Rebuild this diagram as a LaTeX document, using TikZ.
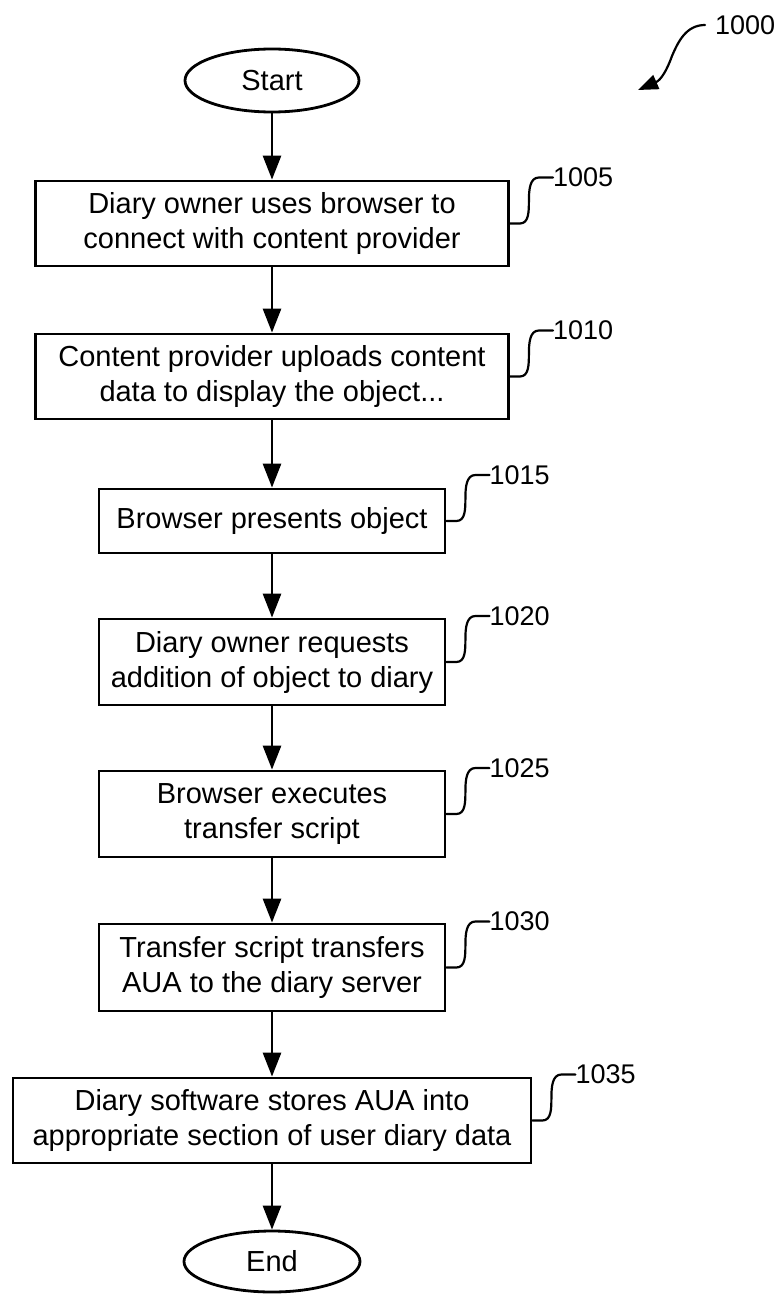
\documentclass[tikz,border=0pt]{standalone}
\usepackage{fontspec}
\setmainfont{Liberation Sans}
\usetikzlibrary{arrows.meta,shapes.geometric,calc}
\begin{document}
\begin{tikzpicture}[x=1pt,y=-1pt,
  stepbox/.style={draw,line width=2.8pt,rectangle,inner sep=0pt,align=center,
    font=\fontsize{29}{35}\selectfont},
  term/.style={draw,line width=2.8pt,ellipse,inner sep=0pt,
    font=\fontsize{29}{35}\selectfont},
  flow/.style={line width=2.8pt,-{Triangle[length=24pt,width=18pt]}},
  lbl/.style={anchor=west,inner sep=0pt,font=\fontsize{27}{30}\selectfont},
  sq/.style={line width=2.2pt,line cap=round,line join=round}]
\useasboundingbox (0,0) rectangle (783,1295);

\node[term,minimum width=174pt,minimum height=63pt] (start) at (272,80.5) {Start};
\node[stepbox,minimum width=473pt,minimum height=85pt] (b1005) at (272,223.5)
  {Diary owner uses browser to\\connect with content provider};
\node[stepbox,minimum width=473pt,minimum height=85pt] (b1010) at (272,376.5)
  {Content provider uploads content\\data to display the object...};
\node[stepbox,minimum width=346pt,minimum height=64pt] (b1015) at (272,521)
  {Browser presents object};
\node[stepbox,minimum width=346pt,minimum height=86pt] (b1020) at (272,662)
  {Diary owner requests\\addition of object to diary};
\node[stepbox,minimum width=346pt,minimum height=86pt] (b1025) at (272,814)
  {Browser executes\\transfer script};
\node[stepbox,minimum width=346pt,minimum height=87pt] (b1030) at (272,967.5)
  {Transfer script transfers\\AUA to the diary server};
\node[stepbox,minimum width=518pt,minimum height=85pt] (b1035) at (272,1120.5)
  {Diary software stores AUA into\\appropriate section of user diary data};
\node[term,minimum width=176pt,minimum height=61pt] (end) at (272,1261.5) {End};

\draw[flow] (start) -- (b1005);
\draw[flow] (b1005) -- (b1010);
\draw[flow] (b1010) -- (b1015);
\draw[flow] (b1015) -- (b1020);
\draw[flow] (b1020) -- (b1025);
\draw[flow] (b1025) -- (b1030);
\draw[flow] (b1030) -- (b1035);
\draw[flow] (b1035) -- (end);

\foreach \b in {1005,1010,1015,1020,1025,1030,1035}{
  \node[lbl] (l\b) at ($(b\b.east)+(43,-46)$) {\b};
  \draw[sq] (b\b.east) -- ++(10,0) .. controls +(9,0) and +(0,11) .. ++(9,-23)
    .. controls +(0,-11) and +(-9,0) .. ++(10,-23) -- (l\b.west);
}

\node[lbl] (l1000) at (715,25) {1000};
\coordinate (t1000) at (638,90);
\draw[sq,-{Triangle[length=20pt,width=15pt]}] ($(l1000.west)+(-10,0)$) .. controls (686,25) and (678,42) .. (672,56)
  .. controls (667,70) and (661,80) .. (t1000);
\end{tikzpicture}
\end{document}
